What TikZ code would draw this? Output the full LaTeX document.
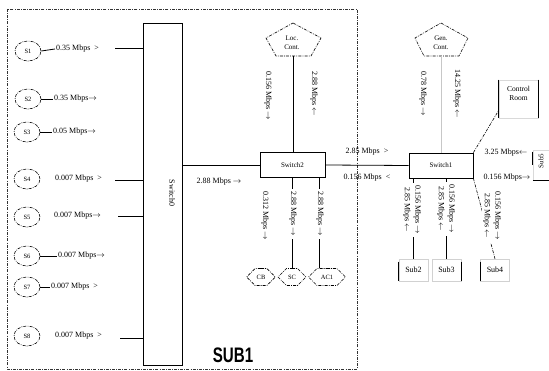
\documentclass[tikz,border=0pt]{standalone}
\usepackage{fontspec}
\setmainfont{Liberation Serif}
\newfontfamily\boldsans{Liberation Sans}
\usetikzlibrary{shapes.geometric,shapes.symbols}
\newcommand{\myra}{\ensuremath{\rightarrow}}
\newcommand{\myla}{\ensuremath{\leftarrow}}
\begin{document}
\begin{tikzpicture}[x=1pt,y=-1pt,
  dd/.style={dash pattern=on 3pt off 1.2pt on 0.8pt off 1.2pt, line width=0.6pt},
  ln/.style={line width=0.8pt},
  t/.style={font=\fontsize{8}{10.5}\selectfont, inner sep=1pt},
  vt/.style={t, rotate=-90, fill=white, align=center, inner xsep=3pt},
  src/.style={ellipse, draw, dd, minimum width=26pt, minimum height=20pt, inner sep=0pt, font=\fontsize{6.5}{7}\selectfont},
  dev/.style={signal, signal to=west and east, draw, dd, minimum height=17pt, inner sep=1.5pt, font=\fontsize{6.5}{7}\selectfont},
  sw/.style={draw, ln, minimum height=25pt, inner sep=0pt, font=\fontsize{7}{8}\selectfont},
  subbox/.style={draw=black!18, line width=0.5pt, minimum width=29pt, minimum height=22pt, inner sep=0pt, font=\fontsize{8}{9}\selectfont},
  faint/.style={draw=black!22, line width=0.5pt}]
\useasboundingbox (0,0) rectangle (549,371);
% frame of SUB1
\draw[dd, line width=0.8pt, black!80] (7,9) rectangle (357,369);
\node[font=\fontsize{21}{21}\selectfont\boldsans\bfseries] (sub1) at (233,355) {\scalebox{0.72}[1]{SUB1}};

% Switch0
\node[draw, ln, minimum width=39pt, minimum height=342pt, anchor=north west, inner sep=0pt] (sw0) at (143,23) {};
\node[t, rotate=-90] (sw0t) at (172,193) {Switch0};

% sources
\node[src] (s1) at (28,51) {S1};
\node[src] (s2) at (28,99) {S2};
\node[src] (s3) at (27,132) {S3};
\node[src] (s4) at (27,179) {S4};
\node[src] (s5) at (27,217) {S5};
\node[src] (s6) at (27,256) {S6};
\node[src] (s7) at (27,287) {S7};
\node[src] (s8) at (27,336) {S8};

\node[t, anchor=west] (l1) at (55,49) {0.35 Mbps\enspace>};
\node[t, anchor=west] (l2) at (53,99) {0.35 Mbps\myra};
\node[t, anchor=west] (l3) at (52,132) {0.05 Mbps\myra};
\node[t, anchor=west] (l4) at (54,179) {0.007 Mbps\enspace>};
\node[t, anchor=west] (l5) at (53,216) {0.007 Mbps\myra};
\node[t, anchor=west] (l6) at (57,256) {0.007 Mbps\myra};
\node[t, anchor=west] (l7) at (50,287) {0.007 Mbps\enspace>};
\node[t, anchor=west] (l8) at (54,336) {0.007 Mbps\enspace>};

\draw[ln] (s1.east) -- (l1.west);
\draw[ln] (s2.east) -- (l2.west);
\draw[ln] (s3.east) -- (l3.west);
\draw[ln] (s6.east) -- (l6.west);
\draw[ln] (s7.east) -- (l7.west);

\coordinate (c1) at (115,48);
\coordinate (c4) at (115,180);
\coordinate (c5) at (118,216);
\coordinate (c8) at (120,338);
\draw[ln] (c1) -- (c1 -| sw0.west);
\draw[ln] (c4) -- (c4 -| sw0.west);
\draw[ln] (c5) -- (c5 -| sw0.west);
\draw[ln] (c8) -- (c8 -| sw0.west);

% Switch2 and Switch1
\node[sw, minimum width=65pt] (sw2) at (292.5,165) {Switch2};
\node[sw, minimum width=64pt] (sw1) at (441,165.5) {Switch1};
\draw[ln] (sw2.west -| sw0.east) -- (sw2.west);
\draw[ln] (sw2.east) -- (sw1.west);
\node[t] (r0) at (219,182) {2.88 Mbps \myra};
\node[t] (r1) at (367,152) {2.85 Mbps\enspace>};
\node[t] (r2) at (367,178) {0.156 Mbps\enspace<};

% Loc. Cont.
\draw[dd] (293,23) -- (321,38) -- (311,56) -- (276,56) -- (266,38) -- cycle;
\node[t, align=center, font=\fontsize{7}{9}\selectfont] (loc) at (292,43) {Loc.\\Cont.};
\coordinate (locb) at (293,56);
\draw[ln] (locb) -- (locb |- sw2.north);
\node[vt] (lc1) at (268,96) {0.156 Mbps \myra};
\node[vt] (lc2) at (314,94) {2.88 Mbps \myla};

% Gen. Cont.
\draw[dd] (441,23) -- (468,38) -- (459,56) -- (424,56) -- (415,38) -- cycle;
\node[t, align=center, font=\fontsize{7}{9}\selectfont] (gen) at (441,43) {Gen.\\Cont.};
\coordinate (genb) at (441,56);
\draw[faint] (genb) -- (genb |- sw1.north);
\node[vt] (gc1) at (423,94) {0.78 Mbps \myra};
\node[vt] (gc2) at (457,94) {14.25 Mbps \myla};

% devices below Switch2
\node[dev, minimum width=26pt] (cb) at (261,277) {CB};
\node[dev, minimum width=28pt] (sc) at (292,277) {SC};
\node[dev, minimum width=37pt] (ac1) at (327,277) {AC1};
\coordinate (a1) at (319,178);
\draw[ln] (sc.north |- sw2.south) -- (sc.north);
\draw[ln] (a1) -- (a1 |- ac1.north);
\node[vt] (d1) at (265,216) {0.312 Mbps \myra};
\node[vt] (d2) at (293,214) {2.88 Mbps \myra};
\node[vt] (d3) at (320,214) {2.88 Mbps \myra};

% subs below Switch1
\node[subbox] (sub2) at (413.5,270) {Sub2};
\node[subbox] (sub3) at (446.5,270) {Sub3};
\node[subbox] (sub4) at (495,270) {Sub4};
\draw[ln] ([yshift=-3pt]sub2.north west) -- (sub2.south west);
\draw[ln] ([yshift=-3pt]sub3.north east) -- (sub3.south east);
\draw[ln] ([yshift=-3pt]sub4.north west) -- (sub4.south west);
\draw[ln] (sub2.north |- sw1.south) -- (sub2.north);
\draw[ln] (sub3.north |- sw1.south) -- (sub3.north);
\draw[dd] (sw1.south east) -- (sub4.north);
\node[vt] (e2) at (412,210) {0.156 Mbps \myra\\2.85 Mbps \myla};
\node[vt] (e3) at (446,209) {0.156 Mbps \myra\\2.85 Mbps \myla};
\node[vt] (e4) at (492,216) {0.156 Mbps \myra\\2.85 Mbps \myla};

% Control Room
\node[draw=black!15, line width=0.5pt, minimum width=39pt, minimum height=38pt] (cr) at (518.5,99) {};
\node[t, align=center, font=\fontsize{7.5}{9}\selectfont] (crt) at (518.5,93) {Control\\Room};
\draw[ln] (cr.north west) -- (cr.south west);
\draw[ln] (cr.north east) -- (cr.south east);
\draw[dd] (sw1.north east) -- ([yshift=8pt]cr.south west);

% Sub5
\node[draw=black!15, line width=0.5pt, minimum width=27pt, minimum height=30pt] (sub5) at (546.5,165) {};
\node[t, rotate=90, font=\fontsize{7}{8}\selectfont] (sub5t) at (541,161) {Sub5};
\draw[ln] ([yshift=-2pt]sub5.north west) -- ([yshift=15pt]sub5.south west);
\draw[ln] (sub5.south west) -- (sub5.south east);
\node[t] (f1) at (506,153) {3.25 Mbps\myla};
\node[t] (f2) at (507,178) {0.156 Mbps\myra};
\end{tikzpicture}
\end{document}
